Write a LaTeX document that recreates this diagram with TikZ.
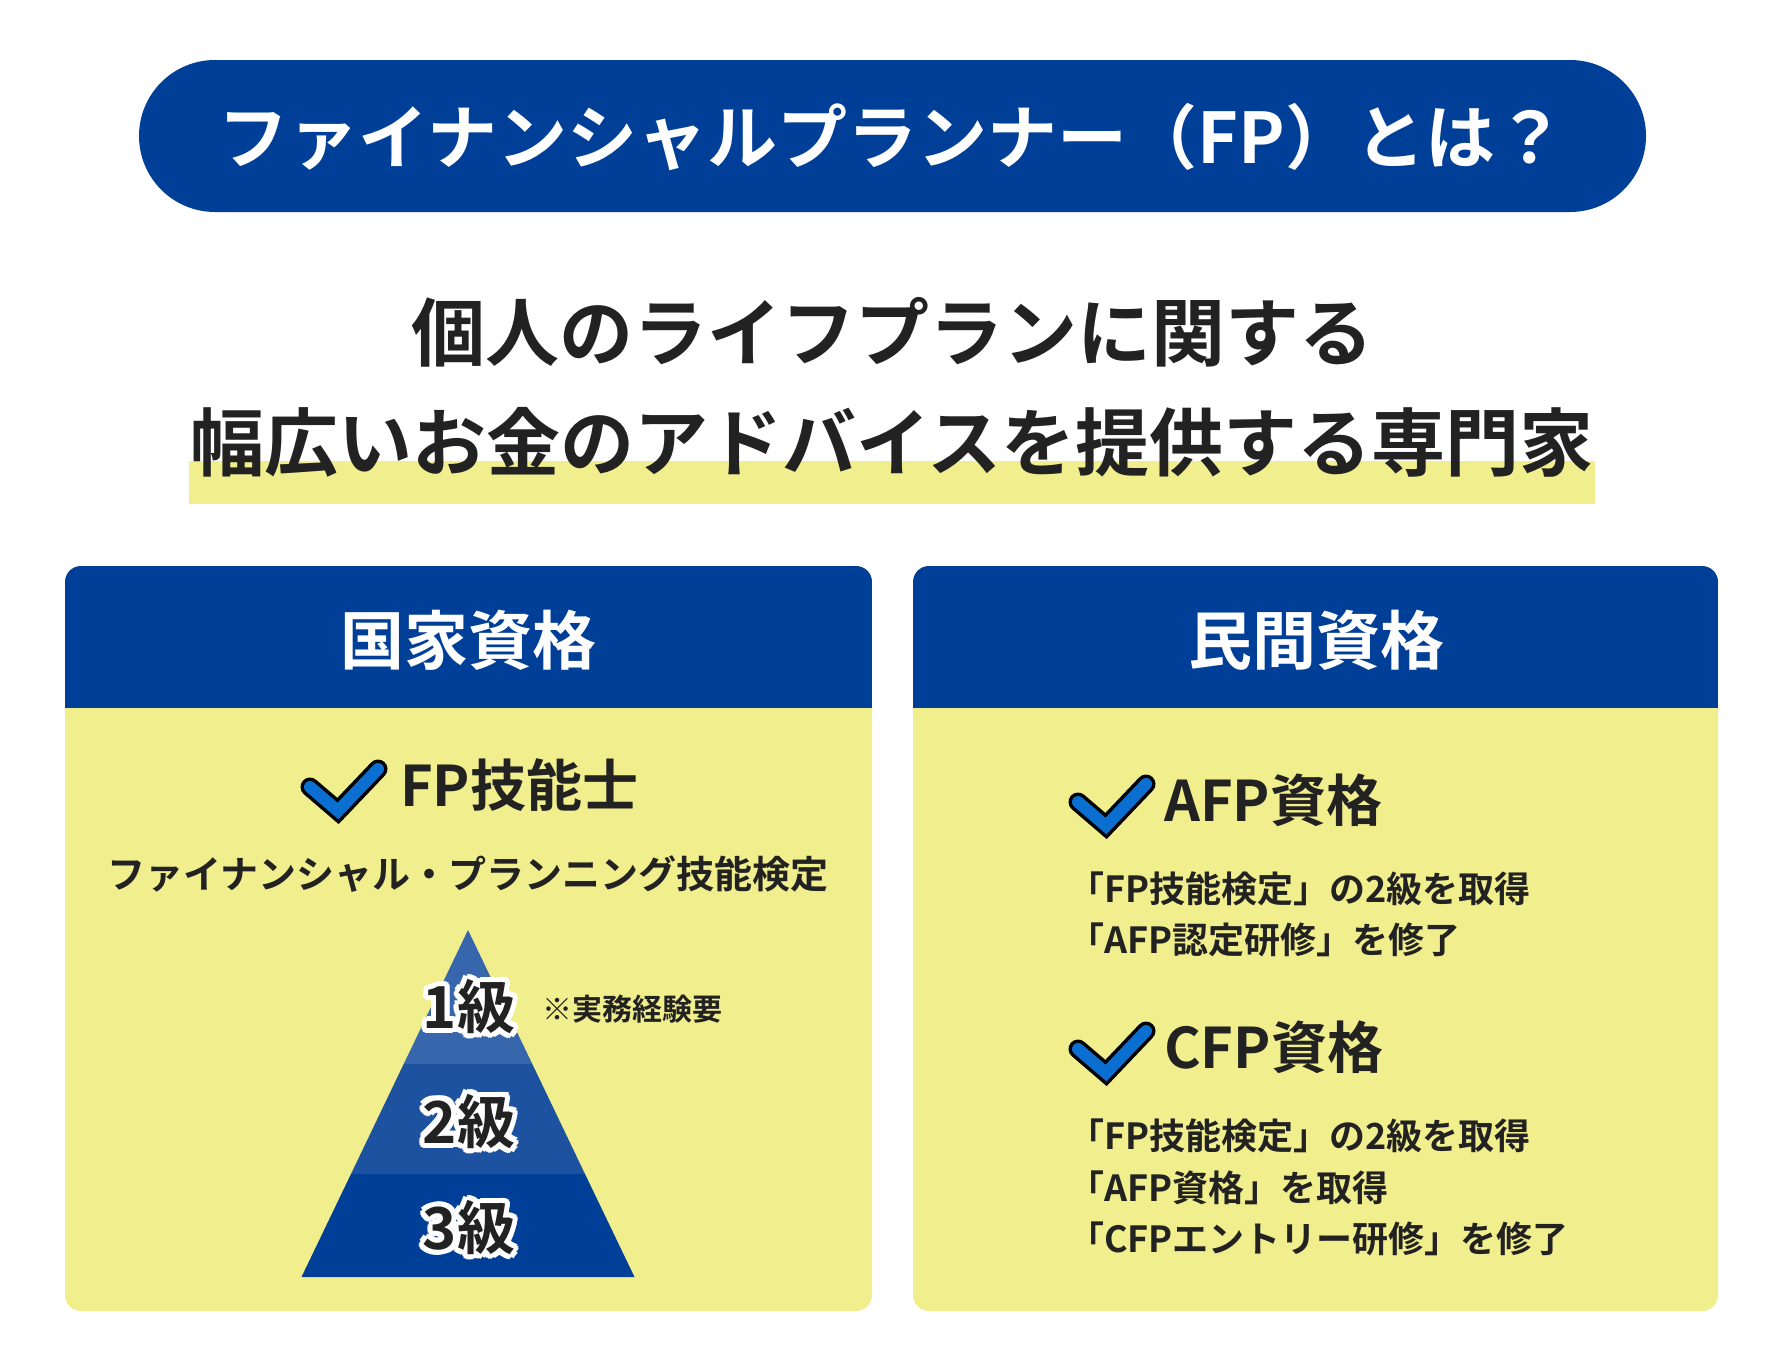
\documentclass[tikz,border=0pt]{standalone}
\usepackage{fontspec}
\setmainfont{Noto Sans CJK JP}[BoldFont={* Bold}]
\definecolor{navy}{HTML}{003F98}
\definecolor{pale}{HTML}{F1EE8E}
\definecolor{ink}{HTML}{222222}
\definecolor{chk}{HTML}{0A6FD0}
\definecolor{py1}{HTML}{3766AD}
\definecolor{py2}{HTML}{1C52A0}
\newcommand{\fs}[1]{\fontsize{#1}{#1}\selectfont\bfseries}
\tikzset{
 txt/.style={text=ink,inner sep=0pt},
 halo/.style={text=white,inner sep=0pt},
}
\newcommand{\chkmark}[3]{% x y name
 \coordinate (#3a) at (#1,#2);
 \coordinate (#3b) at (#1+28,#2+24);
 \coordinate (#3c) at (#1+68,#2-18);
 \draw[black,line width=19pt,line join=miter,line cap=round] (#3a)--(#3b)--(#3c);
 \draw[chk,line width=12pt,line join=miter,line cap=round] (#3a)--(#3b)--(#3c);
}
\newcommand{\kyu}[3]{% y text name
 \foreach \dx/\dy in {-5/0,5/0,0/-5,0/5,-4/-4,4/4,-4/4,4/-4,-5/2,5/-2,-2/5,2/-5}{
  \node[halo,font=\fs{58}] at (469+\dx,#1+\dy) {#2};}
 \node[txt,font=\fs{58}] (#3) at (469,#1) {#2};
}
\begin{document}
\begin{tikzpicture}[x=1pt,y=-1pt]
\useasboundingbox (0,0) rectangle (1782,1371);
\fill[white] (0,0) rectangle (1782,1371);
% title
\fill[navy,rounded corners=76pt] (139,60) rectangle (1646,212);
\node[text=white,inner sep=0pt,font=\fs{70}] (title) at (892,137) {ファイナンシャルプランナー（FP）とは？};
% subtitle
\fill[pale] (189,461) rectangle (1595,504);
\node[txt,font=\fs{74}] (sub1) at (892,332) {個人のライフプランに関する};
\node[txt,font=\fs{74}] (sub2) at (892,442) {幅広いお金のアドバイスを提供する専門家};
% panels
\foreach \xa/\xb in {65/872,913/1718}{
 \fill[pale,rounded corners=16pt] (\xa,566) rectangle (\xb,1311);
 \begin{scope}
 \clip[rounded corners=16pt] (\xa,566) rectangle (\xb,900);
 \fill[navy] (\xa,566) rectangle (\xb,708);
 \end{scope}
}
\node[text=white,inner sep=0pt,font=\fs{64}] (h1) at (468,640) {国家資格};
\node[text=white,inner sep=0pt,font=\fs{64}] (h2) at (1316,640) {民間資格};
% left content
\chkmark{310}{787}{ca}
\node[txt,font=\fs{56},anchor=west] (fp) at (400,785) {FP技能士};
\node[txt,font=\fs{38}] (fpl) at (468,874) {ファイナンシャル・プランニング技能検定};
\fill[py1] (468,930) -- (532.3,1064) -- (403.7,1064) -- cycle;
\fill[py2] (403.7,1064) -- (532.3,1064) -- (585,1174) -- (351,1174) -- cycle;
\fill[navy] (351,1174) -- (585,1174) -- (634.5,1277) -- (301.5,1277) -- cycle;
\kyu{1007}{1級}{k1}
\kyu{1121}{2級}{k2}
\kyu{1227}{3級}{k3}
\node[txt,font=\fs{30},anchor=west] (note) at (542,1009) {※実務経験要};
% right content
\chkmark{1078}{802}{cb}
\node[txt,font=\fs{56},anchor=west] (afp) at (1164,800) {AFP資格};
\node[txt,font=\fs{36},anchor=west] (a1) at (1068,889) {「FP技能検定」の2級を取得};
\node[txt,font=\fs{36},anchor=west] (a2) at (1068,940) {「AFP認定研修」を修了};
\chkmark{1078}{1049}{cc}
\node[txt,font=\fs{56},anchor=west] (cfp) at (1164,1047) {CFP資格};
\node[txt,font=\fs{36},anchor=west] (c1) at (1068,1136) {「FP技能検定」の2級を取得};
\node[txt,font=\fs{36},anchor=west] (c2) at (1068,1188) {「AFP資格」を取得};
\node[txt,font=\fs{36},anchor=west] (c3) at (1068,1239) {「CFPエントリー研修」を修了};
\end{tikzpicture}
\end{document}
